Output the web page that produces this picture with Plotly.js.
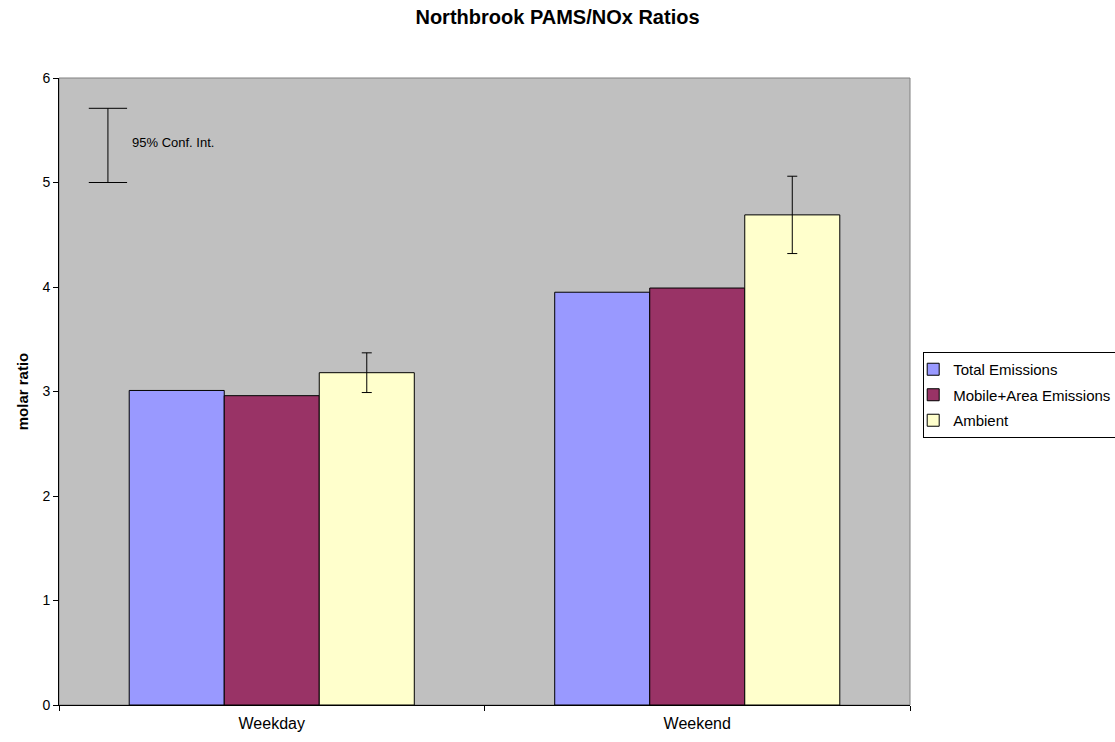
<!DOCTYPE html>
<html>
<head>
<meta charset="utf-8">
<script src="https://cdn.plot.ly/plotly-3.0.1.min.js"></script>
<style>html,body{margin:0;padding:0;background:#fff;}#chart{width:1115px;height:742px;overflow:hidden;}</style>
</head>
<body>
<div id="chart"></div>
<script>
const categories = ["Weekday", "Weekend"];
const seriesNames = ["Total Emissions", "Mobile+Area Emissions", "Ambient"];
const totalEmissions = [3.01, 3.95];
const mobileAreaEmissions = [2.96, 3.99];
const ambient = [3.18, 4.69];
const ambientCI = [0.19, 0.37];
const legendCI = [5.0, 5.71];
const yTicks = [0, 1, 2, 3, 4, 5, 6];

const colors = ["#9999FF", "#993366", "#FFFFCC"];
const seriesValues = [totalEmissions, mobileAreaEmissions, ambient];

const traces = seriesValues.map((vals, i) => {
  const t = {
    type: "bar",
    name: seriesNames[i],
    legendgroup: "g" + i,
    x: categories,
    y: vals,
    marker: {color: colors[i], line: {color: "#000", width: 1}},
    hoverinfo: "x+y+name"
  };
  if (i === 2) {
    t.error_y = {type: "data", array: ambientCI, visible: true, color: "#000", thickness: 1, width: 5};
  }
  return t;
});

const layout = {
  width: 1115, height: 742,
  margin: {l: 59, r: 205, t: 78, b: 37, autoexpand: false},
  paper_bgcolor: "#fff",
  plot_bgcolor: "#C0C0C0",
  font: {family: "Liberation Sans, Arial, sans-serif", size: 14, color: "#000"},
  title: {text: "<b>Northbrook PAMS/NOx Ratios</b>", x: 0.5, xref: "container", xanchor: "center",
          y: 0.977, yanchor: "middle",
          font: {size: 20, family: "Liberation Sans, Arial, sans-serif"}},
  barmode: "group",
  bargap: 0.33,
  bargroupgap: 0,
  showlegend: true,
  legend: {x: 1.0155, xanchor: "left", y: 0.563, yanchor: "top", bgcolor: "#fff",
           bordercolor: "#000", borderwidth: 1, font: {size: 15},
           traceorder: "grouped", tracegroupgap: 3, itemwidth: 30, indentation: -11},
  xaxis: {
    type: "category",
    showline: true, linecolor: "#000", linewidth: 1,
    ticks: "outside", tickson: "boundaries", ticklen: 5, tickcolor: "#000",
    showgrid: false, zeroline: false,
    tickfont: {size: 16},
    ticklabelstandoff: 4
  },
  yaxis: {
    range: [0, 6],
    tickvals: yTicks,
    showline: true, linecolor: "#000", linewidth: 1,
    ticks: "outside", ticklen: 5, tickcolor: "#000",
    showgrid: false, zeroline: false,
    tickfont: {size: 14},
    title: {text: "<b>molar ratio</b>", font: {size: 15}, standoff: 10}
  },
  shapes: [
    {type: "rect", xref: "paper", yref: "paper", x0: 0, x1: 1, y0: 0, y1: 1,
     line: {color: "#808080", width: 1}, layer: "below"},
    {type: "line", xref: "paper", yref: "y", x0: 0.0575, x1: 0.0575, y0: legendCI[0], y1: legendCI[1],
     line: {color: "#000", width: 1}},
    {type: "line", xref: "paper", yref: "y", x0: 0.035, x1: 0.08, y0: legendCI[0], y1: legendCI[0],
     line: {color: "#000", width: 1}},
    {type: "line", xref: "paper", yref: "y", x0: 0.035, x1: 0.08, y0: legendCI[1], y1: legendCI[1],
     line: {color: "#000", width: 1}}
  ],
  annotations: [
    {text: "95% Conf. Int.", xref: "paper", yref: "y", x: 0.083, y: (legendCI[0] + legendCI[1]) / 2 + 0.03,
     xanchor: "left", yanchor: "middle", showarrow: false, font: {size: 13}}
  ]
};

Plotly.newPlot("chart", traces, layout, {displayModeBar: false, responsive: false});
</script>
</body>
</html>
